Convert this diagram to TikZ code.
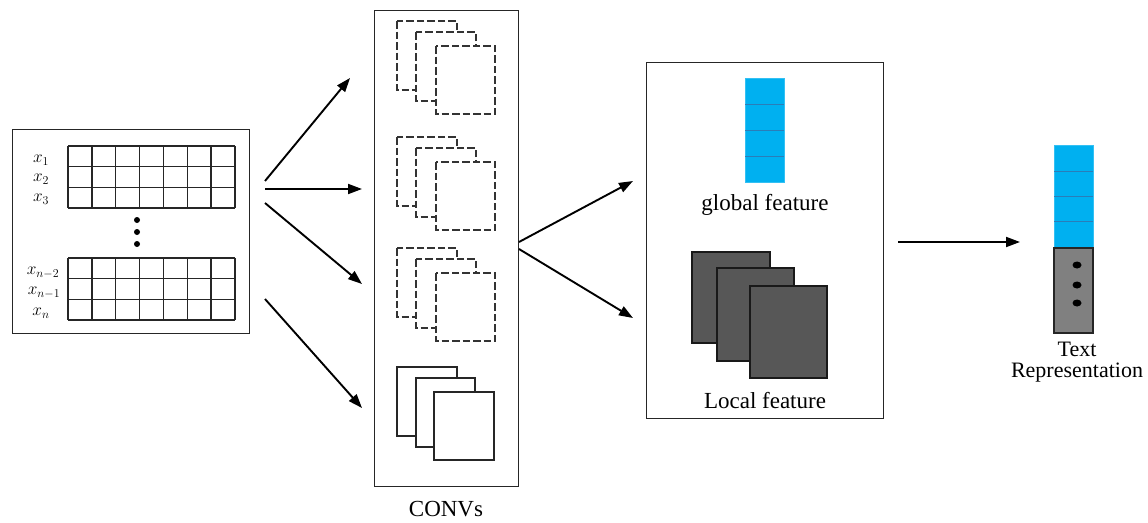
\documentclass[tikz,border=0pt]{standalone}
\usepackage{fontspec}
\setmainfont{Liberation Serif}
\usetikzlibrary{arrows.meta,shapes.geometric}
\definecolor{featblue}{HTML}{00B0F0}
\definecolor{cellline}{HTML}{2A7DB8}
\definecolor{mapgray}{HTML}{575757}
\definecolor{poolgray}{HTML}{808080}

\begin{document}
\begin{tikzpicture}[x=1pt,y=-1pt,
  frame/.style={draw=black!85, line width=1.3pt, minimum width=#1, anchor=north west, inner sep=0pt},
  gridline/.style={draw=black!85, line width=1.3pt},
  flow/.style={line width=1.9pt, -{Triangle[length=14pt,width=10pt]}},
  dashmap/.style={draw=black!80, line width=1.3pt, dash pattern=on 7.5pt off 3pt, fill=white},
  solidmap/.style={draw=black!85, line width=1.2pt, fill=white},
  darkmap/.style={draw=black!90, line width=1.2pt, fill=mapgray},
  label/.style={font=\fontsize{23}{26}\selectfont, inner sep=0pt},
  xlab/.style={font=\fontsize{17.5}{19}\selectfont, inner sep=0pt},
  dot/.style={ellipse, fill=black, inner sep=0pt, minimum width=9pt, minimum height=7pt},
  smalldot/.style={circle, fill=black, inner sep=0pt, minimum size=6pt}
]
\useasboundingbox (0,0) rectangle (1148,522);

% ---------- input matrix ----------
\node[frame=237pt, minimum height=204pt] (input) at (12,129) {};
\foreach \top in {146,258}{
  \foreach \i in {0,...,7}
    \draw[gridline] (68+\i*23.857,\top) -- ++(0,62);
  \foreach \j in {0,...,3}
    \draw[gridline] (68,\top+\j*20.667) -- (235,\top+\j*20.667);
}
\node[xlab] (x1) at (41,160) {$x_1$};
\node[xlab] (x2) at (41,179) {$x_2$};
\node[xlab] (x3) at (41,199) {$x_3$};
\node[xlab] (xn2) at (43,273) {$x_{n-2}$};
\node[xlab] (xn1) at (44,293) {$x_{n-1}$};
\node[xlab] (xn) at (41,313) {$x_n$};
\node[smalldot] (d1) at (137,220) {};
\node[smalldot] (d2) at (137,232) {};
\node[smalldot] (d3) at (137,244) {};

% ---------- convolution layers ----------
\node[frame=144pt, minimum height=476pt] (convs) at (374,10) {};
\node[label] (convlab) at (446,509) {CONVs};
\foreach \t in {21,137,248}{
  \draw[dashmap] (397,\t) rectangle (457,\t+69);
  \draw[dashmap] (416,\t+11) rectangle (476,\t+80);
  \draw[dashmap] (436,\t+25) rectangle (495,\t+93);
}
\draw[solidmap] (397,367) rectangle (457,436);
\draw[solidmap] (416,378) rectangle (475,447);
\draw[solidmap] (434,392) rectangle (494,460);

% ---------- features ----------
\node[frame=237pt, minimum height=356pt] (feat) at (646,62) {};
\draw[draw=featblue!80!white, fill=featblue, line width=0.8pt] (745,78) rectangle (784,182);
\foreach \j in {1,2,3}
  \draw[cellline, line width=0.8pt] (745,78+\j*26) -- (784,78+\j*26);
\node[label] (glob) at (765,205) {global feature};
\draw[darkmap] (692,252) rectangle (770,343);
\draw[darkmap] (717,268) rectangle (794,361);
\draw[darkmap] (750,286) rectangle (827,378);
\node[label] (loc) at (765,401) {Local feature};

% ---------- text representation ----------
\draw[draw=featblue!80!white, fill=featblue, line width=0.8pt] (1054,145) rectangle (1093,248);
\foreach \y in {171,196,221}
  \draw[cellline, line width=0.8pt] (1054,\y) -- (1093,\y);
\draw[draw=black!85, fill=poolgray, line width=1.2pt] (1054,248) rectangle (1093,333);
\node[dot] (r1) at (1077,265) {};
\node[dot] (r2) at (1077,285) {};
\node[dot] (r3) at (1077,303) {};
\node[label, font=\fontsize{22}{20.5}\selectfont, align=center] (replab) at (1077,362) {Text\\Representation};

% ---------- connectors ----------
\coordinate (a1s) at (265,181); \coordinate (a1e) at (350,78);
\coordinate (a2s) at (265,189); \coordinate (a2e) at (362,189);
\coordinate (a3s) at (265,203); \coordinate (a3e) at (362,284);
\coordinate (a4s) at (265,299); \coordinate (a4e) at (362,408);
\draw[flow] (a1s) -- (a1e);
\draw[flow] (a2s) -- (a2e);
\draw[flow] (a3s) -- (a3e);
\draw[flow] (a4s) -- (a4e);
\coordinate (b1s) at (519,242); \coordinate (b1e) at (633,181);
\coordinate (b2s) at (519,249); \coordinate (b2e) at (633,318);
\draw[flow] (b1s) -- (b1e);
\draw[flow] (b2s) -- (b2e);
\coordinate (cs) at (898,242); \coordinate (ce) at (1020,242);
\draw[flow] (cs) -- (ce);
\end{tikzpicture}
\end{document}
